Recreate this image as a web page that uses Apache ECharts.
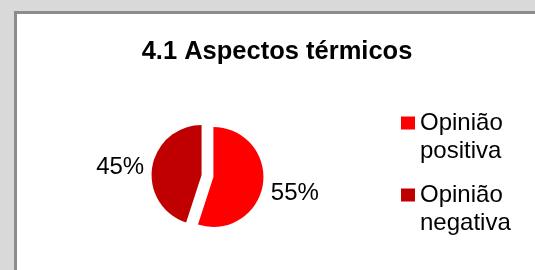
<!DOCTYPE html>
<html>
<head>
<meta charset="utf-8">
<script src="https://cdn.jsdelivr.net/npm/echarts@6/dist/echarts.min.js"></script>
<style>
  html, body { margin: 0; padding: 0; }
  body { width: 535px; height: 270px; overflow: hidden; background: #d9d9d9; position: relative; }
  .frame {
    position: absolute; left: 14px; top: 11px;
    width: 600px; height: 320px;
    background: #fff; border: 3px solid #8c8c8c;
  }
  #chart { position: absolute; left: 0; top: 0; width: 535px; height: 270px; }
</style>
</head>
<body>
<div class="frame"></div>
<div id="chart"></div>
<script>
// dados do gráfico
var titulo = '4.1 Aspectos térmicos';
var categorias = ['Opinião positiva', 'Opinião negativa'];
var legendas = ['Opinião\npositiva', 'Opinião\nnegativa'];
var valores = [55, 45];
var cores = ['#ff0000', '#c00000'];

var chart = echarts.init(document.getElementById('chart'), null, { renderer: 'canvas' });

var dados = categorias.map(function (nome, i) {
  return {
    name: nome,
    value: valores[i],
    selected: true,
    itemStyle: { color: cores[i] }
  };
});

var option = {
  backgroundColor: 'transparent',
  animation: false,
  title: {
    text: titulo,
    left: 272,
    top: 34,
    textAlign: 'center',
    textStyle: {
      fontFamily: 'Liberation Sans',
      fontWeight: 'bold',
      fontSize: 25.5,
      color: '#000'
    }
  },
  legend: {
    orient: 'vertical',
    left: 401,
    top: 81,
    padding: 0,
    itemWidth: 14,
    itemHeight: 13,
    itemGap: -12,
    icon: 'rect',
    selectedMode: false,
    formatter: function (name) {
      // linha vazia em cima para o quadrado ficar na 1a linha
      return ' \n' + legendas[categorias.indexOf(name)];
    },
    textStyle: {
      fontFamily: 'Liberation Sans',
      fontSize: 24,
      lineHeight: 28,
      color: '#000'
    },
    data: categorias
  },
  series: [
    {
      type: 'pie',
      center: [207.5, 176],
      radius: 50,
      startAngle: 90,
      clockwise: true,
      selectedMode: 'multiple',
      selectedOffset: 6,
      emphasis: { disabled: true },
      label: {
        show: true,
        position: 'outside',
        formatter: function (p) {
          // o 55% fica um pouco mais abaixo no original
          return (p.dataIndex === 0 ? '{e|}\n' : '') + '{t|' + p.value + '%}';
        },
        rich: {
          e: { lineHeight: 16, fontSize: 1 },
          t: { fontFamily: 'Liberation Sans', fontSize: 24, lineHeight: 24, color: '#000' }
        },
        fontFamily: 'Liberation Sans',
        fontSize: 24,
        color: '#000'
      },
      labelLine: { show: false, length: 2, length2: 1 },
      data: dados
    }
  ]
};

chart.setOption(option);
</script>
</body>
</html>
